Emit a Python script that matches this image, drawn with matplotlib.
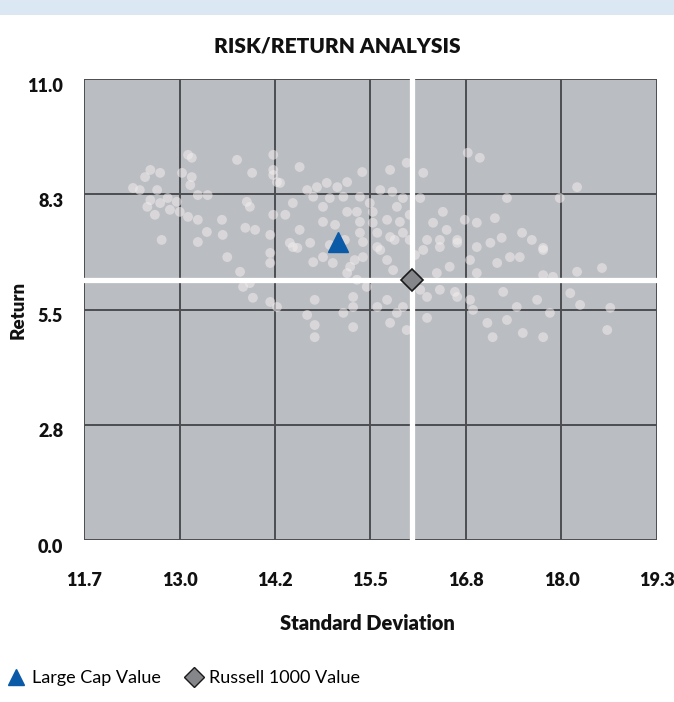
import numpy as np
import matplotlib
matplotlib.use("Agg")
import matplotlib.pyplot as plt
import matplotlib.transforms as mtransforms
from matplotlib.lines import Line2D
from matplotlib.patches import Rectangle

plt.rcParams['font.family'] = ['Lato', 'DejaVu Sans']

# peer universe (std dev, return)
peer_sd = [
    13.08, 13.13, 13.73, 13.93, 12.58, 12.71, 12.51, 13.00, 13.13, 13.11,
    12.35, 12.67, 12.58, 12.54, 12.71, 12.81, 12.93, 12.97, 13.08, 13.21,
    13.34, 13.21, 13.53, 13.86, 13.90, 13.84, 13.97, 13.33, 13.54, 13.21,
    12.73, 14.21, 14.21, 14.26, 14.21, 14.21,
    14.56, 15.39, 15.76, 16.20, 15.98, 14.30, 14.66, 14.79, 14.92, 15.06,
    15.19, 14.74, 14.96, 15.14, 15.36, 15.79, 15.93, 14.47, 14.87, 15.19,
    15.32, 15.53, 15.85, 16.46, 16.16, 16.33, 16.51, 15.36, 15.53, 15.72,
    15.89, 14.87, 14.56, 15.36, 15.59, 15.76, 15.93, 16.25, 16.42, 14.70,
    15.40, 14.47,
    16.79, 16.95, 17.31, 18.01, 18.24, 16.75, 16.91, 17.15, 16.65, 16.91,
    17.09, 17.24, 17.51, 17.64, 17.79,
    13.60, 13.77, 14.17, 14.17, 14.43, 14.53, 14.74, 14.87, 15.00, 15.23,
    15.40, 15.59, 15.72, 15.80, 13.81, 13.94, 14.17, 14.26, 14.76, 14.66,
    14.76, 14.76, 15.14, 15.27, 15.27, 15.27, 15.59, 15.72, 15.76, 15.85,
    15.98, 15.93, 15.19, 15.32, 15.45,
    16.20, 16.42, 16.65, 17.48, 17.35, 17.79, 17.18, 16.91, 16.55, 16.38,
    16.82, 17.79, 17.92, 18.24, 18.57, 16.25, 16.25, 16.82, 17.26, 17.44,
    17.71, 17.88, 18.15, 18.28, 18.68, 18.64, 16.86, 17.05, 17.12, 17.31,
    17.52, 17.79, 16.65,
    16.42, 16.62, 16.16, 13.90, 14.17,
    15.63, 15.49, 15.03, 15.16, 15.63, 15.82, 16.02, 16.02, 16.09, 14.96,
    15.29, 14.37, 12.44, 12.84, 12.64,
]
peer_ret = [
    9.19, 9.12, 9.07, 8.76, 8.83, 8.76, 8.66, 8.76, 8.66, 8.47,
    8.40, 8.35, 8.11, 7.95, 8.04, 8.16, 8.07, 7.83, 7.71, 8.23,
    8.23, 7.64, 7.64, 8.07, 7.95, 7.45, 7.40, 7.35, 7.28, 7.11,
    7.16, 9.19, 8.83, 8.54, 7.76, 8.71,
    8.90, 8.78, 8.83, 8.76, 9.00, 8.52, 8.35, 8.42, 8.52, 8.42,
    8.54, 8.19, 8.16, 8.19, 8.19, 8.31, 8.16, 8.04, 7.95, 7.83,
    7.83, 7.83, 7.95, 7.83, 8.16, 7.57, 7.40, 7.59, 7.57, 7.64,
    7.59, 7.59, 7.40, 7.33, 7.33, 7.23, 7.33, 7.16, 7.16, 7.09,
    7.11, 6.99,
    9.24, 9.12, 8.16, 8.16, 8.42, 7.64, 7.57, 7.68, 7.16, 6.99,
    7.09, 7.21, 7.33, 7.16, 6.97,
    6.75, 6.40, 6.85, 6.61, 7.09, 6.97, 6.63, 6.75, 6.61, 6.52,
    6.75, 6.99, 6.68, 6.44, 6.04, 5.78, 5.68, 5.56, 5.73, 5.37,
    5.13, 4.84, 5.42, 5.80, 5.56, 5.08, 5.56, 5.73, 5.18, 5.42,
    5.01, 5.56, 6.37, 6.21, 6.04,
    6.92, 6.99, 7.09, 6.75, 6.75, 6.92, 6.61, 6.37, 6.52, 6.37,
    6.68, 6.32, 6.28, 6.40, 6.49, 5.80, 5.30, 5.73, 5.92, 5.56,
    5.73, 5.42, 5.89, 5.61, 5.54, 5.01, 5.49, 5.18, 4.84, 5.25,
    4.94, 4.84, 5.80,
    5.97, 5.92, 5.97, 6.13, 7.28,
    8.35, 8.04, 7.52, 7.16, 6.92, 7.16, 7.76, 7.16, 6.80, 7.04,
    6.68, 7.76, 8.35, 7.88, 7.76,
]

fund_name = "Large Cap Value"
fund_sd, fund_ret = 15.07, 7.11
bench_name = "Russell 1000 Value"
bench_sd, bench_ret = 16.05, 6.20

x_ticks = np.linspace(11.7, 19.3, 7)
x_labels = ["11.7", "13.0", "14.2", "15.5", "16.8", "18.0", "19.3"]
y_ticks = np.linspace(0, 11, 5)
y_labels = ["0.0", "2.8", "5.5", "8.3", "11.0"]

fig = plt.figure(figsize=(6.74, 7.02), dpi=100)
fig.patches.append(Rectangle((0, 1 - 15 / 702), 1, 15 / 702, transform=fig.transFigure,
                             facecolor="#dce7f4", edgecolor="none"))
ax = fig.add_axes([84 / 674, 1 - 540 / 702, 573 / 674, 461 / 702])
ax.set_facecolor("#babdc1")
for s in ax.spines.values():
    s.set_visible(False)

ax.set_xlim(11.7, 19.3)
ax.set_ylim(0, 11)
ax.set_xticks(x_ticks)
ax.set_xticklabels(x_labels)
ax.set_yticks(y_ticks)
ax.set_yticklabels(y_labels)
ax.tick_params(length=0, labelsize=13, colors="#111111")
ax.tick_params(axis="x", pad=23)
ax.tick_params(axis="y", pad=15)
shift = mtransforms.ScaledTranslation(0, -4 / 72, fig.dpi_scale_trans)
for lab in ax.get_xticklabels() + ax.get_yticklabels():
    lab.set_fontweight("heavy")
for lab in ax.get_yticklabels():
    lab.set_transform(lab.get_transform() + shift)
ax.grid(True, color="#4b4d50", lw=1.4)
ax.set_axisbelow(True)

ax.scatter(peer_sd, peer_ret, s=50, color="#f1ecee", alpha=0.55, edgecolors="none", zorder=3)

# benchmark cross
ax.axvline(bench_sd, color="white", lw=3.8, zorder=4)
ax.axhline(bench_ret, color="white", lw=3.8, zorder=4)

ax.plot(fund_sd, fund_ret, marker="^", ms=14, color="#0a5aa8", ls="none", zorder=5)
ax.plot(bench_sd, bench_ret, marker="D", ms=11, mfc="#858689", mec="#1a1a1a", mew=1.2,
        ls="none", zorder=5)

fig.text(0.5, 1 - 46 / 702, "RISK/RETURN ANALYSIS", fontsize=15, fontweight="heavy",
         ha="center", va="center", color="#111111")
ax.set_xlabel("Standard Deviation", fontsize=14.5, fontweight="heavy", color="#111111")
ax.xaxis.set_label_coords(0.494, -0.16)
ax.set_ylabel("Return", fontsize=13.5, fontweight="heavy", color="#111111")
ax.yaxis.set_label_coords(-0.1, 0.5)

handles = [
    Line2D([], [], marker="^", ms=11, color="#0a5aa8", ls="none"),
    Line2D([], [], marker="D", ms=10, mfc="#858689", mec="#1a1a1a", mew=1.0, ls="none"),
]
fig.legend(handles, [fund_name, bench_name], loc="lower left", bbox_to_anchor=(0.0, 0.012),
           ncol=2, frameon=False, fontsize=13, handletextpad=0.35, columnspacing=1.35,
           handlelength=1.0, borderaxespad=0.0)

fig.savefig("out.png", dpi=100)
